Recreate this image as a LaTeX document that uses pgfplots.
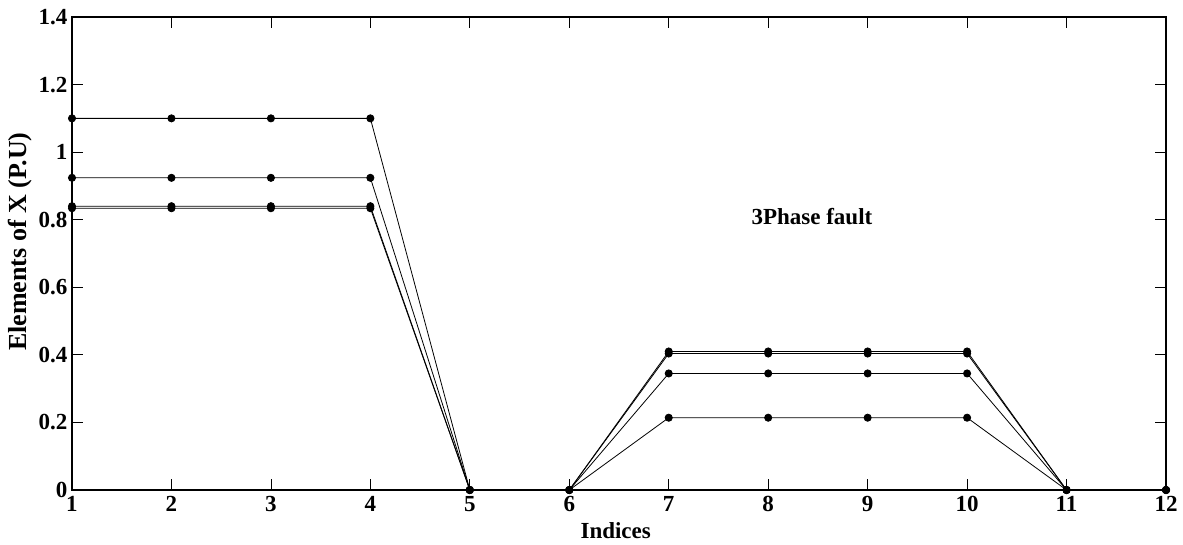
\documentclass[border=0pt]{standalone}
\usepackage{pgfplots}
\pgfplotsset{compat=1.18}
\usepackage{fontspec}
\setmainfont{Liberation Serif}
\begin{document}
\begin{tikzpicture}
\begin{axis}[
  scale only axis,
  width=1094pt, height=473pt,
  xmin=1, xmax=12, ymin=0, ymax=1.4,
  xtick={1,...,12},
  ytick={0,0.2,...,1.4},
  yticklabels={0,0.2,0.4,0.6,0.8,1,1.2,1.4},
  tick align=inside,
  major tick length=11pt,
  tick style={line width=0.8pt, black},
  axis line style={line width=1.6pt},
  font=\fontsize{23}{25}\selectfont\bfseries,
  ticklabel style={font=\fontsize{23}{25}\selectfont\bfseries},
  /pgf/number format/assume math mode=true,
  xticklabel style={yshift=-3pt},
  yticklabel style={xshift=-1pt},
  xlabel={Indices},
  ylabel={Elements of X (P.U)},
  xlabel style={at={(axis description cs:0.497,-0.0867)}, anchor=center},
  ylabel style={at={(axis description cs:-0.047,0.525)}, anchor=center,
    font=\fontsize{26}{28}\selectfont\bfseries},
  ser/.style={black, line width=0.8pt, mark=*, mark size=3.6pt, mark options={solid, fill=black}},
  clip=false,
]
\addplot[ser] coordinates {(1,1.100) (2,1.100) (3,1.100) (4,1.100) (5,0) (6,0) (7,0.214) (8,0.214) (9,0.214) (10,0.214) (11,0) (12,0)};
\addplot[ser] coordinates {(1,0.924) (2,0.924) (3,0.924) (4,0.924) (5,0) (6,0) (7,0.345) (8,0.345) (9,0.345) (10,0.345) (11,0) (12,0)};
\addplot[ser] coordinates {(1,0.840) (2,0.840) (3,0.840) (4,0.840) (5,0) (6,0) (7,0.404) (8,0.404) (9,0.404) (10,0.404) (11,0) (12,0)};
\addplot[ser] coordinates {(1,0.834) (2,0.834) (3,0.834) (4,0.834) (5,0) (6,0) (7,0.410) (8,0.410) (9,0.410) (10,0.410) (11,0) (12,0)};
\node[font=\fontsize{23}{25}\selectfont\bfseries] at (axis cs:8.44,0.81) {3Phase fault};
\coordinate (sw) at (rel axis cs:0,0);
\coordinate (ne) at (rel axis cs:1,1);
\end{axis}
% fixed page margins around the plot box
\pgfresetboundingbox
\path ([xshift=-72pt,yshift=-54pt]sw) rectangle ([xshift=17pt,yshift=17pt]ne);
\end{tikzpicture}
\end{document}
